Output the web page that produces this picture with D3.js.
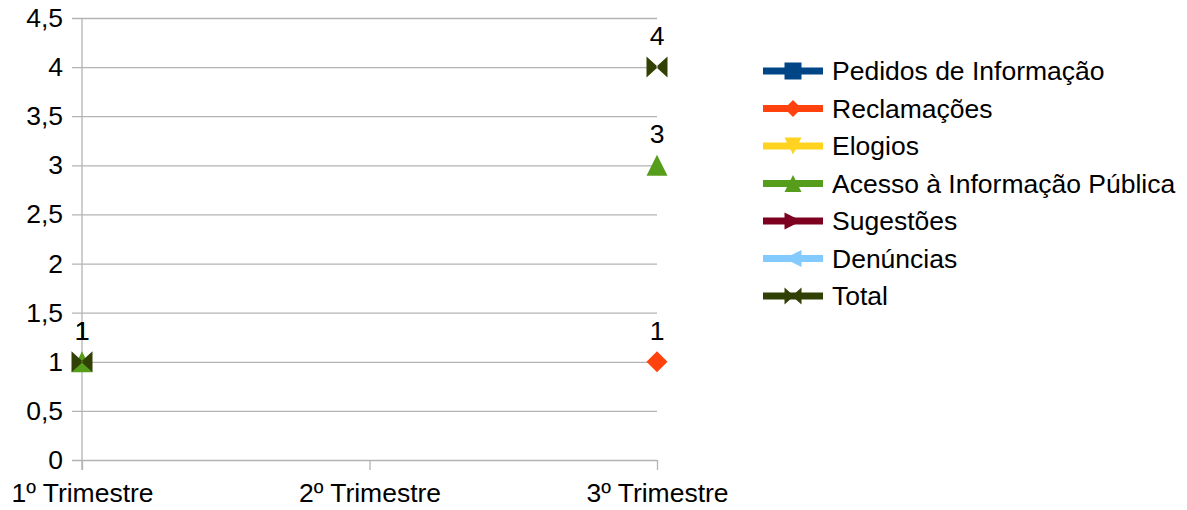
<!DOCTYPE html>
<html><head><meta charset="utf-8">
<script src="https://cdn.jsdelivr.net/npm/d3@7"></script>
<style>body{margin:0;background:#fff}svg{display:block;font-family:"Liberation Sans",Arial,sans-serif}</style>
</head><body><svg id="c" width="1187" height="510"></svg>
<script>
const categories = ["1º Trimestre", "2º Trimestre", "3º Trimestre"];
const seriesNames = ["Pedidos de Informação", "Reclamações", "Elogios", "Acesso à Informação Pública", "Sugestões", "Denúncias", "Total"];
const pedidos = [null, null, null];
const reclamacoes = [null, null, 1];
const elogios = [null, null, null];
const acesso = [1, null, 3];
const sugestoes = [null, null, null];
const denuncias = [null, null, null];
const total = [1, null, 4];
const yTicks = [0, 0.5, 1, 1.5, 2, 2.5, 3, 3.5, 4, 4.5];
const colors = ["#004586", "#ff420e", "#ffd320", "#579d1c", "#7e0021", "#83caff", "#314004"];
const markers = ["square", "diamond", "down", "up", "right", "left", "bowtie"];
const seriesValues = [pedidos, reclamacoes, elogios, acesso, sugestoes, denuncias, total];

const svg = d3.select("#c");
const L = 82, R = 657, T = 18, B = 460;
const x = d3.scalePoint().domain(categories).range([L, R]).padding(0);
const y = d3.scaleLinear().domain([0, 4.5]).range([B, T]);
const fs = 26.5;

const yAxis = d3.axisLeft(y).tickValues(yTicks).tickFormat(d => String(d).replace(".", ",")).tickSize(L - R).tickPadding(0);
const gy = svg.append("g").attr("transform", `translate(${L},0)`).call(yAxis);
gy.select(".domain").remove();
gy.selectAll(".tick line").attr("x1", -10).attr("x2", R - L).attr("stroke", "#b3b3b3").attr("stroke-width", 1.3);
gy.selectAll(".tick text").attr("x", -19).attr("font-size", fs).attr("fill", "#000").attr("font-family", "Liberation Sans, Arial, sans-serif");

const xAxis = d3.axisBottom(x).tickSize(10).tickPadding(13);
const gx = svg.append("g").attr("transform", `translate(0,${B})`).call(xAxis);
gx.select(".domain").remove();
gx.selectAll(".tick line").attr("stroke", "#b3b3b3").attr("stroke-width", 1.3);
gx.selectAll(".tick text").attr("font-size", fs).attr("fill", "#000").attr("font-family", "Liberation Sans, Arial, sans-serif");
svg.append("line").attr("x1", L).attr("x2", L).attr("y1", T).attr("y2", B + 10).attr("stroke", "#b3b3b3").attr("stroke-width", 1.3);

function markerPath(type, s) {
  const h = s / 2;
  switch (type) {
    case "square": return `M${-h},${-h}H${h}V${h}H${-h}Z`;
    case "diamond": return `M0,${-h}L${h},0L0,${h}L${-h},0Z`;
    case "down": return `M${-h},${-h}L${h},${-h}L0,${h}Z`;
    case "up": return `M0,${-h}L${h},${h}L${-h},${h}Z`;
    case "right": return `M${-h},${-h}L${h},0L${-h},${h}Z`;
    case "left": return `M${h},${-h}L${-h},0L${h},${h}Z`;
    case "bowtie": return `M${-h},${-h}L1,0L${-h},${h}Z M${h},${-h}L-1,0L${h},${h}Z`;
  }
}

const line = d3.line().defined(d => d.v != null).x(d => x(d.c)).y(d => y(d.v));
seriesValues.forEach((vals, i) => {
  const data = categories.map((c, j) => ({ c, v: vals[j] }));
  const g = svg.append("g");
  g.append("path").attr("d", line(data)).attr("fill", "none").attr("stroke", colors[i]).attr("stroke-width", 4);
  g.selectAll("path.m").data(data.filter(d => d.v != null)).enter().append("path").attr("class", "m")
    .attr("transform", d => `translate(${x(d.c)},${y(d.v)})`)
    .attr("d", markerPath(markers[i], 21)).attr("fill", colors[i]);
  g.selectAll("text").data(data.filter(d => d.v != null)).enter().append("text")
    .attr("x", d => x(d.c)).attr("y", d => y(d.v) - 22).attr("text-anchor", "middle")
    .attr("font-size", fs).attr("fill", "#000").text(d => String(d.v).replace(".", ","));
});

const lg = svg.append("g");
seriesNames.forEach((n, i) => {
  const yy = 71 + i * 37.5;
  lg.append("line").attr("x1", 763).attr("x2", 823).attr("y1", yy).attr("y2", yy).attr("stroke", colors[i]).attr("stroke-width", 7);
  lg.append("path").attr("transform", `translate(793,${yy})`).attr("d", markerPath(markers[i], 17)).attr("fill", colors[i]);
  lg.append("text").attr("x", 832).attr("y", yy).attr("dy", "0.35em").attr("font-size", fs).attr("fill", "#000").text(n);
});
</script></body></html>
